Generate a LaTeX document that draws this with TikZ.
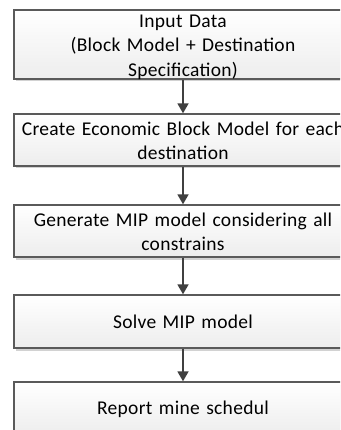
\documentclass[tikz,border=0pt]{standalone}
\usepackage{fontspec}
\setmainfont[LetterSpace=1.5]{Carlito}
\usetikzlibrary{arrows.meta,shadows}
\definecolor{boxline}{HTML}{5A5A5A}
\definecolor{arrowc}{HTML}{404040}
\definecolor{boxbot}{HTML}{EDEDED}
\tikzset{
  stepbox/.style={draw=boxline, line width=1.4pt, top color=white, bottom color=boxbot,
    minimum width=338pt, inner sep=0pt,
    drop shadow={shadow xshift=1.5pt, shadow yshift=-2.5pt, opacity=0.35, fill=gray}},
  steptext/.style={inner sep=0pt, text width=380pt, align=center,
    font=\fontsize{19.5}{24.5}\selectfont},
  flow/.style={draw=arrowc, line width=1.8pt, -{Triangle[width=11pt,length=10pt]}}
}
\begin{document}
\begin{tikzpicture}[x=1pt,y=-1pt]
\path[use as bounding box] (0,0) rectangle (340,430);
\clip (0,0) rectangle (340,430);
\fill[white] (0,0) rectangle (340,430);
% boxes of the flow chart
\node[stepbox, minimum height=69pt] (b1) at (183,44.5) {};
\node[stepbox, minimum height=52pt] (b2) at (183,140) {};
\node[stepbox, minimum height=52pt] (b3) at (183,231) {};
\node[stepbox, minimum height=53pt] (b4) at (183,321.5) {};
\node[stepbox, minimum height=53pt] (b5) at (183,408.5) {};
% labels
\node[steptext] (t1) at (183,47) {Input Data\\(Block Model + Destination\\Specification)};
\node[steptext] (t2) at (183,141) {Create Economic Block Model for each\\destination};
\node[steptext] (t3) at (183,232) {Generate MIP model considering all\\constrains};
\node[steptext] (t4) at (183,322) {Solve MIP model};
\node[steptext] (t5) at (183,409) {Report mine schedul};
% connectors
\draw[flow] (b1.south) -- (b2.north);
\draw[flow] (b2.south) -- (b3.north);
\draw[flow] (b3.south) -- (b4.north);
\draw[flow] (b4.south) -- (b5.north);
\end{tikzpicture}
\end{document}
